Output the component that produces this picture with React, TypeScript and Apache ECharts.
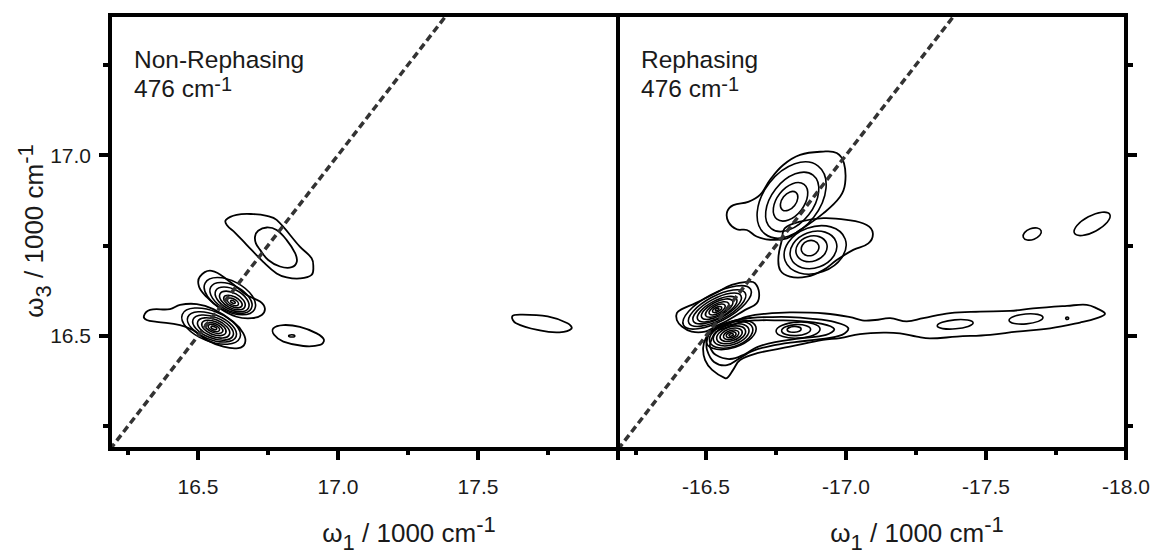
import React, { useEffect, useRef } from "react";
import * as echarts from "echarts";

// ---------- axes (units: 1000 cm^-1) ----------
const nrXRange = [16.186, 18.0];
const rXRange = [-18.0, -16.186];
const yRange = [16.187, 17.388];

const nrXMajorTicks = [16.5, 17.0, 17.5, 18.0];
const nrXMinorTicks = [16.25, 16.75, 17.25, 17.75];
const nrXLabels = [16.5, 17.0, 17.5];
const rXMajorTicks = [-16.5, -17.0, -17.5, -18.0];
const rXMinorTicks = [-16.25, -16.75, -17.25, -17.75];
const rXLabels = [-16.5, -17.0, -17.5, -18.0];
const yMajorTicks = [16.5, 17.0];
const yMinorTicks = [16.25, 16.75, 17.25];
const yLabels = [16.5, 17.0];

// diagonals (w3 = |w1|)
const nrDiagonal = [[16.186, 16.186], [17.388, 17.388]];
const rDiagonal = [[-16.186, 16.186], [-17.388, 17.388]];

// ---------- Non-Rephasing: traced contour lines [w1, w3] ----------
const nrContourA1 = [[16.600,16.821],[16.638,16.835],[16.698,16.837],[16.746,16.832],[16.781,16.821],[16.864,16.747],[16.906,16.715],[16.912,16.692],[16.906,16.669],[16.864,16.659],[16.817,16.662],[16.781,16.673],[16.733,16.705],[16.674,16.752],[16.632,16.786],[16.603,16.807]];
const nrContourA2 = [[16.704,16.775],[16.715,16.791],[16.746,16.800],[16.781,16.793],[16.817,16.765],[16.847,16.729],[16.853,16.705],[16.835,16.690],[16.793,16.692],[16.751,16.710],[16.722,16.738],[16.707,16.756]];
const nrContourB = [[16.507,16.664],[16.549,16.680],[16.614,16.650],[16.674,16.613],[16.722,16.595],[16.739,16.576],[16.728,16.558],[16.692,16.549],[16.638,16.553],[16.579,16.576],[16.531,16.608],[16.504,16.636]];
const nrContourC = [[16.307,16.555],[16.329,16.572],[16.400,16.574],[16.436,16.586],[16.496,16.588],[16.555,16.574],[16.626,16.539],[16.662,16.507],[16.668,16.480],[16.644,16.466],[16.591,16.470],[16.531,16.489],[16.483,16.516],[16.436,16.530],[16.353,16.539],[16.317,16.544]];
const nrContourD = [[16.769,16.521],[16.805,16.530],[16.864,16.525],[16.924,16.507],[16.950,16.489],[16.936,16.475],[16.876,16.472],[16.805,16.484],[16.772,16.503]];
const nrContourE = [[17.622,16.554],[17.650,16.559],[17.749,16.554],[17.820,16.535],[17.834,16.520],[17.791,16.510],[17.721,16.515],[17.636,16.535]];
const nrContours = [nrContourA1, nrContourA2, nrContourB, nrContourC, nrContourD, nrContourE];

// nested rings: [w1 centre, w3 centre, half-width (w1), half-height (w3), tilt deg]
const nrRingsB = [
  [16.614,16.610,0.100,0.0415,-28],[16.618,16.605,0.082,0.0346,-28],[16.622,16.601,0.066,0.0277,-28],
  [16.623,16.598,0.050,0.0208,-28],[16.625,16.595,0.0357,0.0138,-26],[16.625,16.594,0.0214,0.0083,-26],
  [16.625,16.594,0.0089,0.0033,-26],
];
const nrRingsC = [
  [16.547,16.527,0.111,0.0415,-22],[16.550,16.525,0.093,0.0346,-22],[16.554,16.523,0.077,0.029,-22],
  [16.556,16.522,0.061,0.0235,-22],[16.557,16.522,0.046,0.018,-22],[16.557,16.522,0.034,0.0125,-22],
  [16.557,16.522,0.0214,0.0083,-22],[16.557,16.522,0.0107,0.0039,-22],
];
const nrRingsD = [[16.835,16.500,0.011,0.003,0]];
const nrRings = [...nrRingsB, ...nrRingsC, ...nrRingsD];

// ---------- Rephasing ----------
const rContourF = [[-16.576,16.844],[-16.598,16.862],[-16.651,16.871],[-16.693,16.890],[-16.729,16.932],[-16.776,16.973],[-16.836,17.001],[-16.919,17.010],[-16.967,17.006],[-16.993,16.978],[-16.997,16.922],[-16.979,16.885],[-16.919,16.839],[-16.836,16.793],[-16.789,16.770],[-16.729,16.766],[-16.681,16.775],[-16.646,16.793],[-16.610,16.795],[-16.580,16.816]];
const rContourG = [[-16.782,16.798],[-16.836,16.816],[-16.919,16.826],[-17.003,16.821],[-17.074,16.807],[-17.096,16.784],[-17.080,16.756],[-17.026,16.738],[-16.967,16.710],[-16.919,16.682],[-16.860,16.664],[-16.800,16.664],[-16.765,16.682],[-16.759,16.719],[-16.771,16.765]];
const rContourH = [[-16.396,16.563],[-16.414,16.574],[-16.461,16.590],[-16.533,16.618],[-16.592,16.641],[-16.651,16.650],[-16.675,16.646],[-16.690,16.618],[-16.681,16.590],[-16.640,16.572],[-16.580,16.544],[-16.533,16.526],[-16.497,16.512],[-16.449,16.512],[-16.414,16.526],[-16.396,16.544]];
const rContourI1 = [[-16.568,16.383],[-16.522,16.406],[-16.497,16.433],[-16.490,16.467],[-16.500,16.494],[-16.525,16.514],[-16.558,16.525],[-16.604,16.541],[-16.650,16.554],[-16.711,16.561],[-16.800,16.565],[-16.925,16.562],[-17.015,16.552],[-17.058,16.543],[-17.104,16.544],[-17.158,16.549],[-17.217,16.540],[-17.276,16.549],[-17.372,16.563],[-17.479,16.567],[-17.586,16.569],[-17.668,16.576],[-17.789,16.583],[-17.860,16.586],[-17.896,16.576],[-17.925,16.561],[-17.896,16.549],[-17.836,16.537],[-17.729,16.521],[-17.610,16.512],[-17.515,16.503],[-17.396,16.498],[-17.300,16.493],[-17.253,16.498],[-17.193,16.507],[-17.134,16.509],[-17.050,16.505],[-16.979,16.494],[-16.918,16.489],[-16.800,16.470],[-16.683,16.452],[-16.622,16.433],[-16.597,16.406],[-16.579,16.386]];
const rContourI2 = [[-16.504,16.489],[-16.518,16.514],[-16.558,16.529],[-16.611,16.544],[-16.665,16.550],[-16.729,16.552],[-16.800,16.552],[-16.872,16.548],[-16.961,16.538],[-17.008,16.522],[-16.986,16.503],[-16.908,16.491],[-16.818,16.483],[-16.729,16.472],[-16.665,16.458],[-16.622,16.439],[-16.575,16.419],[-16.529,16.428],[-16.504,16.461]];
const rContourI3 = [[-16.518,16.486],[-16.536,16.511],[-16.579,16.525],[-16.629,16.539],[-16.686,16.543],[-16.757,16.543],[-16.836,16.541],[-16.915,16.533],[-16.958,16.519],[-16.929,16.503],[-16.836,16.493],[-16.747,16.483],[-16.683,16.469],[-16.640,16.450],[-16.586,16.436],[-16.536,16.447],[-16.515,16.469]];
const rContours = [rContourF, rContourG, rContourH, rContourI1, rContourI2, rContourI3];

const rRingsF = [
  [-16.806,16.876,0.154,0.0775,52],[-16.808,16.871,0.121,0.058,52],[-16.802,16.871,0.0786,0.0374,52],[-16.797,16.873,0.0393,0.0194,52],
];
const rRingsG = [
  [-16.890,16.738,0.114,0.0637,20],[-16.884,16.738,0.0857,0.0498,20],[-16.877,16.741,0.0571,0.0346,20],[-16.872,16.743,0.0321,0.0208,20],
];
const rRingsH = [
  [-16.540,16.579,0.136,0.0387,28],[-16.540,16.577,0.114,0.0332,28],[-16.540,16.576,0.0964,0.0277,28],
  [-16.540,16.574,0.0786,0.0235,28],[-16.540,16.574,0.0625,0.0194,28],[-16.540,16.573,0.0464,0.0152,28],
  [-16.540,16.573,0.0321,0.0111,28],[-16.540,16.573,0.0179,0.0061,28],[-16.540,16.573,0.0071,0.0028,28],
];
const rRingsI = [
  [-16.590,16.503,0.0929,0.036,18],[-16.590,16.503,0.0804,0.0332,18],[-16.590,16.503,0.0661,0.0277,18],
  [-16.590,16.503,0.0536,0.0221,18],[-16.590,16.503,0.0411,0.0166,18],[-16.590,16.503,0.0286,0.0119,18],
  [-16.590,16.503,0.0179,0.0075,18],[-16.590,16.503,0.0079,0.0033,18],
];
const rRingsJ = [[-16.829,16.516,0.0786,0.0221,3],[-16.822,16.516,0.0518,0.0152,3],[-16.815,16.518,0.025,0.0078,3]];
const rRingsTail = [[-17.390,16.532,0.0643,0.0125,5],[-17.643,16.547,0.0607,0.0138,5],[-17.790,16.549,0.0054,0.0033,0]];
const rRingsHigh = [[-17.665,16.782,0.0339,0.0152,20],[-17.879,16.810,0.0714,0.0221,28]];
const rRings = [...rRingsF, ...rRingsG, ...rRingsH, ...rRingsI, ...rRingsJ, ...rRingsTail, ...rRingsHigh];

// ---------- texts ----------
const panelTitles = ["Non-Rephasing", "Rephasing"];
const panelFreq = "476 cm";

const FONT = '"Liberation Sans", Arial, Helvetica, sans-serif';
const INK = "#1a1a1a";

function contourSeries(contours: number[][][], xi: number, yi: number) {
  return {
    type: "custom",
    xAxisIndex: xi,
    yAxisIndex: yi,
    clip: true,
    silent: true,
    z: 2,
    data: contours.map((c) => c[0]),
    renderItem: (params: any, api: any) => {
      const pts = contours[params.dataIndex].map((p) => api.coord(p));
      return {
        type: "polygon",
        shape: { points: pts, smooth: 0.4 },
        style: { fill: "none", stroke: "#000", lineWidth: 1.8 },
      };
    },
  };
}

function ringSeries(rings: number[][], xi: number, yi: number) {
  return {
    type: "custom",
    xAxisIndex: xi,
    yAxisIndex: yi,
    clip: true,
    silent: true,
    z: 2,
    encode: { x: 0, y: 1 },
    data: rings,
    renderItem: (params: any, api: any) => {
      const cx = api.value(0);
      const cy = api.value(1);
      const c = api.coord([cx, cy]);
      const s = api.size([api.value(2), api.value(3)], [cx, cy]);
      return {
        type: "ellipse",
        x: c[0],
        y: c[1],
        rotation: (api.value(4) * Math.PI) / 180,
        shape: { cx: 0, cy: 0, rx: s[0], ry: s[1] },
        style: { fill: "none", stroke: "#000", lineWidth: 1.6 },
      };
    },
  };
}

function diagSeries(data: number[][], xi: number, yi: number) {
  return {
    type: "line",
    xAxisIndex: xi,
    yAxisIndex: yi,
    data,
    symbol: "none",
    silent: true,
    z: 5,
    lineStyle: { color: "#333", width: 3.5, type: [7, 4] },
  };
}

const tickStyle = { color: "#000", width: 4 };

function xAxisPair(range: number[], grid: number, major: number[], minor: number[], labels: number[], inverse: boolean) {
  const base = {
    type: "value",
    gridIndex: grid,
    min: range[0],
    max: range[1],
    inverse,
    position: "bottom",
    axisLine: { show: false, onZero: false },
    splitLine: { show: false },
  };
  return [
    {
      ...base,
      axisTick: { show: true, customValues: major, length: 11, lineStyle: tickStyle },
      axisLabel: {
        show: true,
        customValues: labels,
        formatter: (v: number) => v.toFixed(1),
        margin: 27,
        fontSize: 21,
        fontFamily: FONT,
        color: INK,
      },
    },
    {
      ...base,
      axisTick: { show: true, customValues: minor, length: 6, lineStyle: tickStyle },
      axisLabel: { show: false },
    },
  ];
}

function yAxisPair(grid: number, position: string, withLabels: boolean) {
  const base = {
    type: "value",
    gridIndex: grid,
    min: yRange[0],
    max: yRange[1],
    position,
    axisLine: { show: false, onZero: false },
    splitLine: { show: false },
  };
  return [
    {
      ...base,
      axisTick: { show: true, customValues: yMajorTicks, length: 11, lineStyle: tickStyle },
      axisLabel: withLabels
        ? {
            show: true,
            customValues: yLabels,
            formatter: (v: number) => v.toFixed(1),
            margin: 19,
            fontSize: 21,
            fontFamily: FONT,
            color: INK,
          }
        : { show: false },
    },
    {
      ...base,
      axisTick: { show: true, customValues: yMinorTicks, length: 7, lineStyle: tickStyle },
      axisLabel: { show: false },
    },
  ];
}

const titleRich = {
  m: { fontSize: 26, fontFamily: FONT, lineHeight: 40, fill: INK },
  sub: { fontSize: 22, fontFamily: FONT, lineHeight: 15, verticalAlign: "bottom", fill: INK },
  sup: { fontSize: 22, fontFamily: FONT, lineHeight: 31, verticalAlign: "top", fill: INK },
};
const labelRich = {
  m: { fontSize: 24.5, fontFamily: FONT, lineHeight: 30, fill: INK },
  sup: { fontSize: 20, fontFamily: FONT, lineHeight: 23, verticalAlign: "top", fill: INK },
};

function panelText(x: number, title: string) {
  return [
    {
      type: "text",
      x,
      y: 59,
      style: { text: title, fontSize: 24.5, fontFamily: FONT, fill: INK, align: "left", verticalAlign: "middle" },
    },
    {
      type: "text",
      x,
      y: 88.5,
      style: { text: `{m|${panelFreq}}{sup|-1}`, rich: labelRich, align: "left", verticalAlign: "middle" },
    },
  ];
}

function axisTitle(x: number, y: number, idx: string, rotation = 0) {
  return {
    type: "text",
    x,
    y,
    rotation,
    style: {
      text: `{m|ω}{sub|${idx}}{m| / 1000 cm}{sup|-1}`,
      rich: titleRich,
      align: "center",
      verticalAlign: "middle",
    },
  };
}

export default function App() {
  const ref = useRef<HTMLDivElement>(null);
  useEffect(() => {
    if (!ref.current) return;
    const chart = echarts.init(ref.current, null, { renderer: "svg" });
    const option: any = {
      animation: false,
      backgroundColor: "#fff",
      grid: [
        { left: 110, top: 15, width: 508, height: 434, show: true, borderColor: "#000", borderWidth: 4, backgroundColor: "transparent", z: 10 },
        { left: 618, top: 15, width: 508, height: 434, show: true, borderColor: "#000", borderWidth: 4, backgroundColor: "transparent", z: 10 },
      ],
      xAxis: [
        ...xAxisPair(nrXRange, 0, nrXMajorTicks, nrXMinorTicks, nrXLabels, false),
        ...xAxisPair(rXRange, 1, rXMajorTicks, rXMinorTicks, rXLabels, true),
      ],
      yAxis: [...yAxisPair(0, "left", true), ...yAxisPair(1, "right", false)],
      series: [
        contourSeries(nrContours, 0, 0),
        ringSeries(nrRings, 0, 0),
        diagSeries(nrDiagonal, 0, 0),
        contourSeries(rContours, 2, 2),
        ringSeries(rRings, 2, 2),
        diagSeries(rDiagonal, 2, 2),
      ],
      graphic: [
        ...panelText(134, panelTitles[0]),
        ...panelText(641, panelTitles[1]),
        axisTitle(409, 533, "1"),
        axisTitle(917, 533, "1"),
        axisTitle(34, 231, "3", Math.PI / 2),
      ],
    };
    chart.setOption(option);
    return () => chart.dispose();
  }, []);
  return (
    <div
      ref={ref}
      style={{ position: "absolute", left: 0, top: 0, width: 1154, height: 554, background: "#fff" }}
    />
  );
}
